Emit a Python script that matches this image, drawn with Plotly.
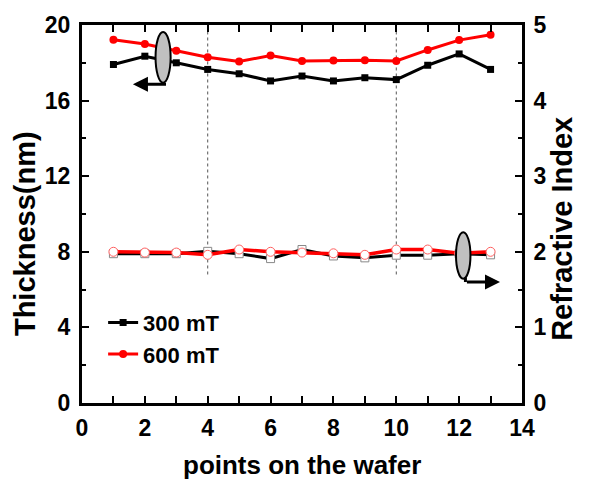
import plotly.graph_objects as go

points = list(range(1, 14))
thick_300 = [17.91, 18.35, 18.00, 17.65, 17.42, 17.04, 17.30, 17.04, 17.21, 17.11, 17.87, 18.47, 17.65]
thick_600 = [19.22, 18.99, 18.64, 18.29, 18.07, 18.38, 18.09, 18.12, 18.14, 18.10, 18.68, 19.20, 19.48]
ri_300 = [1.975, 1.975, 1.975, 2.006, 1.975, 1.91, 2.03, 1.945, 1.92, 1.955, 1.955, 1.975, 1.96]
ri_600 = [2.00, 1.99, 1.99, 1.96, 2.03, 2.00, 1.99, 1.98, 1.96, 2.03, 2.03, 1.98, 2.00]

FONT = "Liberation Sans, Arial, sans-serif"

fig = go.Figure()

# refractive index (right axis), hollow markers
fig.add_trace(go.Scatter(x=points, y=ri_300, yaxis="y2", mode="lines+markers",
                         line=dict(color="black", width=3),
                         marker=dict(symbol="square", size=8, color="white",
                                     line=dict(color="#888888", width=1)),
                         showlegend=False))
fig.add_trace(go.Scatter(x=points, y=ri_600, yaxis="y2", mode="lines+markers",
                         line=dict(color="red", width=3.5),
                         marker=dict(symbol="circle", size=9, color="white",
                                     line=dict(color="#ff6060", width=1)),
                         showlegend=False))
# thickness (left axis)
fig.add_trace(go.Scatter(x=points, y=thick_300, mode="lines+markers", name="300 mT",
                         line=dict(color="black", width=3),
                         marker=dict(symbol="square", size=7, color="black")))
fig.add_trace(go.Scatter(x=points, y=thick_600, mode="lines+markers", name="600 mT",
                         line=dict(color="red", width=3),
                         marker=dict(symbol="circle", size=8, color="red")))

# dotted guide lines
for xv in [4, 10]:
    fig.add_shape(type="line", xref="x", yref="y", x0=xv, x1=xv, y0=6.8, y1=20,
                  line=dict(color="#555555", width=1, dash="dot"), layer="below")

# ellipses
fig.add_shape(type="circle", xref="x", yref="y", x0=2.34, x1=2.82, y0=16.95, y1=19.63,
              fillcolor="#c0c0c0", line=dict(color="black", width=2))
fig.add_shape(type="circle", xref="x", yref="y2", x0=11.9, x1=12.36, y0=1.645, y1=2.26,
              fillcolor="#c0c0c0", line=dict(color="black", width=2))
fig.add_shape(type="line", xref="x", yref="y2", x0=12.2, x1=12.2, y0=1.66, y1=1.60,
              line=dict(color="black", width=3))

# arrows
fig.add_annotation(x=1.62, y=16.87, ax=2.72, ay=16.87, xref="x", yref="y",
                   axref="x", ayref="y", text="", showarrow=True,
                   arrowhead=2, arrowsize=1, arrowwidth=3, arrowcolor="black")
fig.add_annotation(x=13.3, y=1.60, ax=12.2, ay=1.60, xref="x", yref="y2",
                   axref="x", ayref="y2", text="", showarrow=True,
                   arrowhead=2, arrowsize=1, arrowwidth=3, arrowcolor="black")

tickfont = dict(family=FONT, size=23, color="black", weight="bold")

# axis titles
fig.add_annotation(text="points on the wafer", xref="paper", yref="paper", x=0.5, y=-0.165,
                   xanchor="center", yanchor="middle", showarrow=False,
                   font=dict(family=FONT, size=26, color="black", weight="bold"))
fig.add_annotation(text="Thickness(nm)", xref="paper", yref="paper", x=-0.13, y=0.449,
                   xanchor="center", yanchor="middle", showarrow=False, textangle=-90,
                   font=dict(family=FONT, size=29, color="black", weight="bold"))
fig.add_annotation(text="Refractive Index", xref="paper", yref="paper", x=1.092, y=0.462,
                   xanchor="center", yanchor="middle", showarrow=False, textangle=-90,
                   font=dict(family=FONT, size=29, color="black", weight="bold"))

fig.update_layout(
    width=597, height=479,
    margin=dict(l=82, r=75, t=20, b=76),
    plot_bgcolor="white", paper_bgcolor="white",
    xaxis=dict(range=[0, 14], dtick=2, tick0=0, showgrid=False, zeroline=False,
               showline=True, linecolor="black", linewidth=3, mirror="allticks",
               ticks="inside", ticklen=7, tickwidth=2, tickcolor="black",
               minor=dict(dtick=1, ticks="inside", ticklen=4, tickwidth=2, tickcolor="black"),
               tickfont=tickfont, ticklabelstandoff=2),
    yaxis=dict(range=[0, 20], dtick=4, tick0=0, showgrid=False, zeroline=False,
               showline=True, linecolor="black", linewidth=3,
               ticks="inside", ticklen=7, tickwidth=2, tickcolor="black",
               minor=dict(dtick=2, ticks="inside", ticklen=4, tickwidth=2, tickcolor="black"),
               tickfont=tickfont, ticklabelstandoff=4),
    yaxis2=dict(range=[0, 5], dtick=1, tick0=0, overlaying="y", side="right",
                showgrid=False, zeroline=False,
                showline=True, linecolor="black", linewidth=3,
                ticks="inside", ticklen=7, tickwidth=2, tickcolor="black",
                minor=dict(dtick=0.5, ticks="inside", ticklen=4, tickwidth=2, tickcolor="black"),
                tickfont=tickfont, ticklabelstandoff=4),
    legend=dict(x=0.048, y=0.268, xanchor="left", yanchor="top",
                bgcolor="rgba(0,0,0,0)",
                font=dict(family=FONT, size=22, color="black", weight="bold"),
                tracegroupgap=0, itemwidth=30),
)

fig.write_html("out.html")
